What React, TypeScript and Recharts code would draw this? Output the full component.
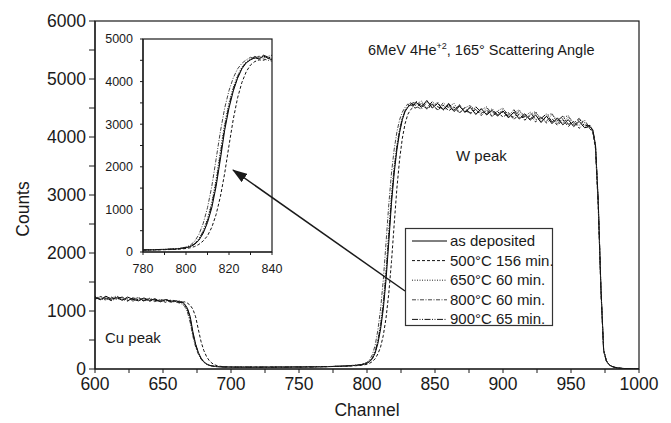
import { LineChart, Line, XAxis, YAxis } from "recharts";

const FONT = '"Liberation Sans", Arial, Helvetica, sans-serif';
const INK = "#1a1a1a";

// channel positions of the sampled spectra
const channels = [
  600, 604, 608, 612, 616, 620, 624, 628, 632, 636, 640, 644, 648, 652, 656,
  658, 660, 662, 664, 666, 668, 670, 672, 674, 676, 678, 680, 682, 684, 686, 688, 690, 692, 694, 696, 698, 700,
  704, 708, 712, 716, 720, 724, 728, 732, 736, 740, 744, 748, 752, 756, 760, 764, 768, 772, 776, 780, 784, 788, 792, 796,
  798, 800, 802, 804, 806, 808, 810, 812, 814, 816, 818, 820, 822, 824, 826, 828, 830, 832, 834,
  836, 840, 844, 848, 852, 856, 860, 864, 868, 872, 876, 880, 884, 888, 892, 896, 900, 904, 908, 912, 916, 920, 924, 928, 932, 936, 940, 944, 948, 952, 956, 960, 964,
  966, 968, 970, 972, 974, 976, 978, 980, 982, 984,
  988, 992, 996, 1000,
];

const asDeposited = [
  1240, 1195, 1255, 1205, 1230, 1185, 1240, 1200, 1175, 1225, 1180, 1210, 1160, 1195, 1170,
  1168, 1176, 1152, 1160, 1118, 1045, 905, 640, 430, 285, 185, 125, 88, 66, 54, 46, 41, 38, 36, 34, 35, 33,
  34, 31, 33, 30, 32, 34, 31, 33, 35, 32, 34, 36, 33, 37, 35, 38, 40, 42, 44, 47, 51, 56, 63, 74,
  86, 100, 128, 178, 275, 440, 690, 1040, 1540, 2180, 2860, 3380, 3780, 4080, 4300, 4440, 4510, 4560, 4530,
  4600, 4510, 4630, 4500, 4580, 4470, 4560, 4440, 4530, 4430, 4510, 4390, 4490, 4380, 4460, 4360, 4450, 4330, 4430, 4310, 4400, 4290, 4380, 4250, 4360, 4230, 4330, 4210, 4300, 4180, 4270, 4160, 4180,
  4120, 3860, 2900, 1400, 330, 140, 75, 45, 30, 20,
  10, 5, 2, 0,
];

const c500 = [
  1200, 1250, 1215, 1185, 1245, 1205, 1170, 1230, 1190, 1215, 1165, 1205, 1185, 1150, 1190,
  1180, 1162, 1170, 1150, 1158, 1135, 1100, 1030, 900, 680, 470, 320, 215, 145, 100, 72, 56, 47, 41, 38, 36, 34,
  33, 35, 31, 34, 32, 30, 33, 35, 31, 34, 33, 36, 34, 35, 37, 39, 38, 41, 43, 45, 48, 52, 57, 64,
  72, 82, 100, 128, 178, 260, 380, 580, 880, 1300, 1850, 2500, 3120, 3620, 3980, 4230, 4390, 4470, 4510,
  4500, 4590, 4480, 4570, 4460, 4550, 4450, 4520, 4410, 4510, 4400, 4480, 4370, 4470, 4350, 4440, 4340, 4420, 4300, 4400, 4290, 4370, 4260, 4350, 4240, 4320, 4200, 4300, 4180, 4270, 4150, 4230, 4140,
  4080, 3800, 2800, 1350, 310, 135, 72, 44, 29, 19,
  9, 4, 2, 0,
];

const c650 = [
  1255, 1210, 1190, 1240, 1200, 1230, 1180, 1215, 1235, 1170, 1205, 1190, 1160, 1200, 1175,
  1172, 1158, 1165, 1140, 1100, 1010, 850, 590, 400, 265, 175, 118, 84, 63, 52, 45, 40, 37, 35, 34, 33, 32,
  33, 32, 34, 31, 33, 30, 34, 32, 33, 35, 34, 33, 36, 35, 38, 37, 41, 43, 46, 49, 53, 59, 66, 78,
  92, 108, 140, 200, 310, 500, 780, 1170, 1700, 2380, 3020, 3500, 3870, 4140, 4340, 4460, 4530, 4550, 4580,
  4560, 4620, 4490, 4540, 4600, 4460, 4520, 4580, 4420, 4500, 4550, 4390, 4470, 4520, 4360, 4450, 4500, 4340, 4420, 4470, 4300, 4390, 4440, 4270, 4360, 4410, 4230, 4330, 4370, 4200, 4300, 4250, 4170,
  4110, 3840, 2880, 1380, 320, 138, 74, 45, 30, 20,
  10, 5, 2, 0,
];

const c800 = [
  1215, 1245, 1190, 1225, 1260, 1195, 1215, 1170, 1225, 1195, 1210, 1160, 1200, 1180, 1150,
  1165, 1150, 1138, 1120, 1075, 980, 800, 560, 380, 255, 170, 115, 82, 62, 51, 44, 39, 37, 35, 33, 34, 32,
  32, 34, 31, 33, 35, 31, 32, 34, 33, 31, 35, 34, 37, 36, 36, 39, 42, 41, 45, 50, 54, 60, 68, 80,
  96, 114, 160, 250, 410, 670, 1040, 1540, 2180, 2830, 3380, 3790, 4090, 4300, 4430, 4510, 4570, 4540, 4600,
  4530, 4480, 4600, 4550, 4470, 4590, 4510, 4460, 4560, 4420, 4530, 4470, 4400, 4500, 4430, 4370, 4480, 4390, 4340, 4450, 4360, 4310, 4420, 4330, 4270, 4390, 4290, 4240, 4350, 4250, 4200, 4290, 4150,
  4100, 3830, 2870, 1370, 315, 136, 73, 44, 29, 19,
  9, 5, 2, 0,
];

const c900 = [
  1230, 1200, 1235, 1180, 1215, 1240, 1190, 1210, 1200, 1175, 1220, 1185, 1170, 1195, 1160,
  1160, 1170, 1146, 1150, 1105, 1025, 870, 610, 415, 275, 180, 121, 86, 64, 53, 45, 40, 38, 36, 34, 33, 33,
  31, 33, 32, 34, 30, 33, 32, 31, 34, 33, 35, 34, 35, 38, 36, 40, 39, 43, 45, 48, 52, 57, 64, 76,
  90, 104, 135, 190, 295, 475, 740, 1110, 1620, 2280, 2940, 3440, 3830, 4110, 4320, 4450, 4520, 4590, 4550,
  4620, 4540, 4500, 4610, 4520, 4490, 4580, 4470, 4540, 4450, 4420, 4520, 4430, 4400, 4490, 4380, 4430, 4360, 4470, 4340, 4350, 4430, 4300, 4320, 4400, 4260, 4280, 4360, 4220, 4240, 4320, 4190, 4200,
  4130, 3870, 2920, 1420, 335, 142, 76, 46, 31, 21,
  10, 5, 2, 0,
];

const mainXTicks = [600, 625, 650, 675, 700, 725, 750, 775, 800, 825, 850, 875, 900, 925, 950, 975, 1000];
const mainYTicks = [0, 500, 1000, 1500, 2000, 2500, 3000, 3500, 4000, 4500, 5000, 5500, 6000];
const insetXTicks = [780, 790, 800, 810, 820, 830, 840];
const insetYTicks = [0, 500, 1000, 1500, 2000, 2500, 3000, 3500, 4000, 4500, 5000];

const series = [
  { key: "asDeposited", name: "as deposited", values: asDeposited, dash: undefined, color: "#000" },
  { key: "c500", name: "500°C 156 min.", values: c500, dash: "3 2", color: "#111" },
  { key: "c650", name: "650°C 60 min.", values: c650, dash: "1 1.5", color: "#222" },
  { key: "c800", name: "800°C 60 min.", values: c800, dash: "4 1.5 1 1.5", color: "#444" },
  { key: "c900", name: "900°C 65 min.", values: c900, dash: "6 1.5 1 1.5 1 1.5", color: "#111" },
];

const data = channels.map((channel, i) => {
  const row: any = { channel };
  series.forEach((s) => (row[s.key] = s.values[i]));
  return row;
});
const insetData = data.filter((d) => d.channel >= 780 && d.channel <= 840);

// axis ticks drawn as paths (tickSize 0 so x/y sit on the axis line)
const bottomTick = (len: number, every: number, fs: number, baseline: number) => (p: any) => {
  const x = Number(p.x);
  const y = Number(p.y);
  return (
    <g>
      <path d={`M${x},${y}v${len}`} stroke={INK} fill="none" />
      {p.payload.value % every === 0 && (
        <text x={x} y={y + baseline} textAnchor="middle" fontSize={fs} fill={INK} fontFamily={FONT}>
          {p.payload.value}
        </text>
      )}
    </g>
  );
};

const leftTick = (len: number, every: number, fs: number, gap: number) => (p: any) => {
  const x = Number(p.x);
  const y = Number(p.y);
  return (
    <g>
      <path d={`M${x},${y}h${-len}`} stroke={INK} fill="none" />
      {p.payload.value % every === 0 && (
        <text x={x - gap} y={y} dy="0.35em" textAnchor="end" fontSize={fs} fill={INK} fontFamily={FONT}>
          {p.payload.value}
        </text>
      )}
    </g>
  );
};

const topTick = (len: number) => (p: any) => (
  <path d={`M${Number(p.x)},${Number(p.y)}v${len}`} stroke={INK} fill="none" />
);

const rightTick = (len: number) => (p: any) => (
  <path d={`M${Number(p.x)},${Number(p.y)}h${-len}`} stroke={INK} fill="none" />
);

const axisCommon = {
  type: "number" as const,
  allowDataOverflow: true,
  interval: 0 as const,
  tickSize: 0,
  tickMargin: 0,
  tickLine: false,
  stroke: INK,
  axisLine: { stroke: INK, strokeWidth: 1.2 },
};

function Curves() {
  return (
    <>
      {series.map((s) => (
        <Line
          key={s.key}
          type="linear"
          dataKey={s.key}
          stroke={s.color}
          strokeWidth={1}
          strokeDasharray={s.dash}
          dot={false}
          activeDot={false}
          isAnimationActive={false}
        />
      ))}
    </>
  );
}

export default function App() {
  return (
    <div
      style={{
        position: "absolute",
        left: 0,
        top: 0,
        width: 671,
        height: 423,
        background: "#fff",
        fontFamily: FONT,
      }}
    >
      <LineChart width={671} height={423} data={data} margin={{ top: 21, right: 32, left: 0, bottom: 0 }}>
        <XAxis {...axisCommon} dataKey="channel" domain={[600, 1000]} ticks={mainXTicks} height={54} tick={bottomTick(4, 50, 17.5, 21)} />
        <XAxis {...axisCommon} xAxisId="top" dataKey="channel" orientation="top" domain={[600, 1000]} ticks={mainXTicks} height={0} tick={topTick(4)} />
        <YAxis {...axisCommon} domain={[0, 6000]} ticks={mainYTicks} width={95} tick={leftTick(6, 1000, 17.5, 9)} />
        <YAxis {...axisCommon} yAxisId="right" orientation="right" domain={[0, 6000]} ticks={mainYTicks} width={0} tick={rightTick(4)} />
        {Curves()}
      </LineChart>

      <div style={{ position: "absolute", left: 100, top: 30 }}>
        <LineChart width={190} height={250} data={insetData} margin={{ top: 9, right: 18, left: 0, bottom: 0 }}>
          <XAxis {...axisCommon} dataKey="channel" domain={[780, 840]} ticks={insetXTicks} height={28} tick={bottomTick(3, 20, 12.5, 21)} />
          <XAxis {...axisCommon} xAxisId="top" dataKey="channel" orientation="top" domain={[780, 840]} ticks={insetXTicks} height={0} tick={topTick(3)} />
          <YAxis {...axisCommon} domain={[0, 5000]} ticks={insetYTicks} width={43} tick={leftTick(3, 1000, 12.5, 10)} />
          <YAxis {...axisCommon} yAxisId="right" orientation="right" domain={[0, 5000]} ticks={insetYTicks} width={0} tick={rightTick(3)} />
          {Curves()}
        </LineChart>
      </div>

      <svg
        width={671}
        height={423}
        style={{ position: "absolute", left: 0, top: 0, pointerEvents: "none" }}
        fontFamily={FONT}
        fill={INK}
      >
        <defs>
          <marker id="arrowHead" markerUnits="userSpaceOnUse" markerWidth={15} markerHeight={10} refX={14} refY={5} orient="auto">
            <path d="M0,0 L15,5 L0,10 z" fill={INK} />
          </marker>
        </defs>
        {/* plot frames */}
        <rect x={95} y={21} width={544} height={348} fill="none" stroke={INK} strokeWidth={1.2} />
        <rect x={143} y={39} width={129} height={213} fill="none" stroke={INK} strokeWidth={1.2} />
        <text x={23} y={209} fontSize={17.5} textAnchor="middle" dy="0.35em" transform="rotate(-90 23 209)">
          Counts
        </text>
        <text x={367} y={416} fontSize={17.5} textAnchor="middle">
          Channel
        </text>
        <text x={368} y={55} fontSize={14.5}>
          6MeV 4He
          <tspan dy={-6} fontSize={9}>
            +2
          </tspan>
          <tspan dy={6} fontSize={14.5}>
            , 165° Scattering Angle
          </tspan>
        </text>
        <text x={456} y={161} fontSize={15}>
          W peak
        </text>
        <text x={105} y={343} fontSize={15}>
          Cu peak
        </text>
        <line x1={405} y1={291} x2={233} y2={170} stroke={INK} strokeWidth={1.5} markerEnd="url(#arrowHead)" />
        <rect x={405.5} y={228.5} width={147} height={97} fill="#fff" stroke="#333" strokeWidth={1.2} />
        {series.map((s, i) => {
          const cy = 241 + i * 19.6;
          return (
            <g key={s.key}>
              <line x1={412} x2={447} y1={cy} y2={cy} stroke={s.color} strokeWidth={1} strokeDasharray={s.dash} />
              <text x={450} y={cy + 5} fontSize={15}>
                {s.name}
              </text>
            </g>
          );
        })}
      </svg>
    </div>
  );
}
